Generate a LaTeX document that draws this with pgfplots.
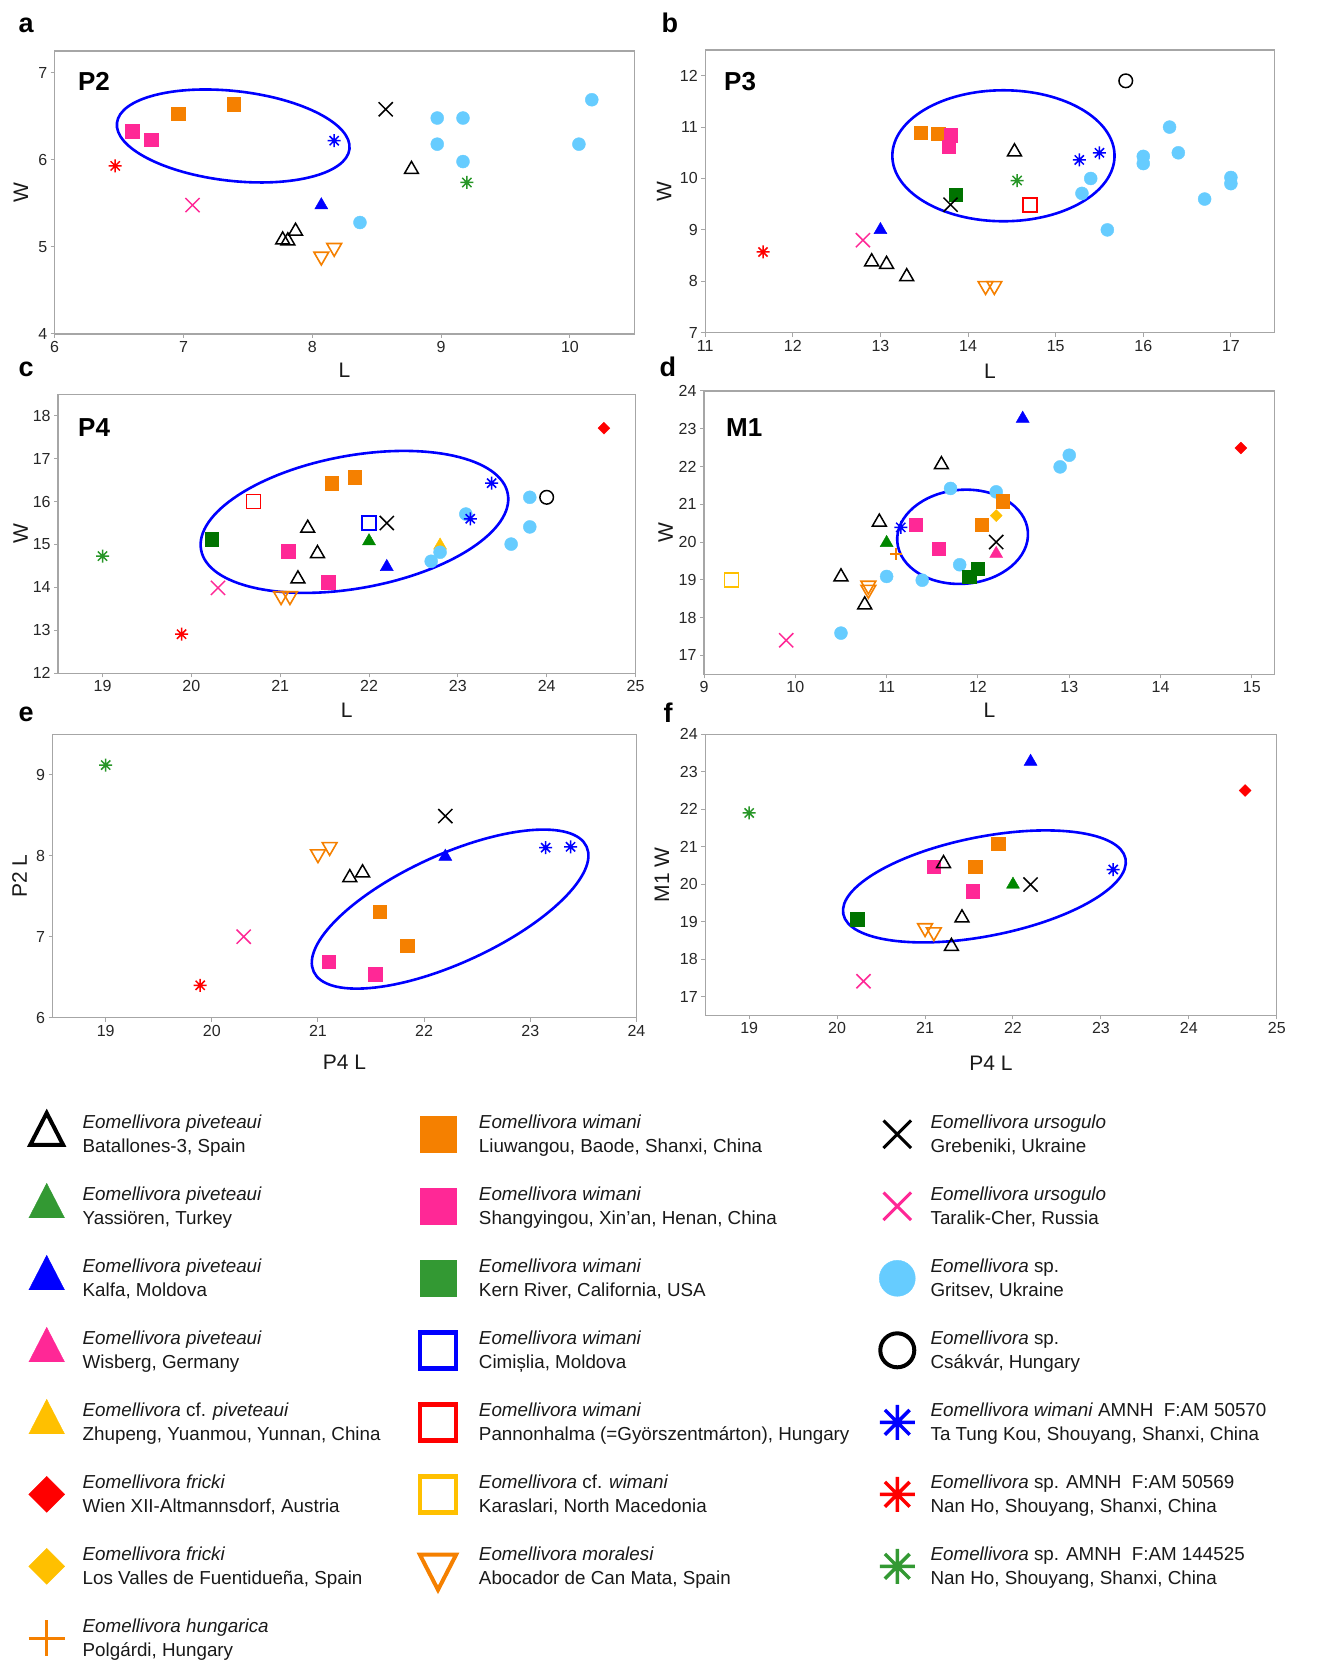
\documentclass[border=0pt]{standalone}
\usepackage{fontspec}
\setmainfont{Liberation Sans}
\usepackage{pgfplots}
\pgfplotsset{compat=1.18}
\usetikzlibrary{shapes.geometric}

\definecolor{cOr}{RGB}{245,128,0}
\definecolor{cPk}{RGB}{255,40,150}
\definecolor{cGrL}{RGB}{51,153,51}
\definecolor{cGrD}{RGB}{0,115,0}
\definecolor{cGrT}{RGB}{0,135,0}
\definecolor{cGrA}{RGB}{40,150,40}
\definecolor{cYe}{RGB}{255,192,0}
\definecolor{cLb}{RGB}{102,204,255}
\definecolor{cBl}{RGB}{0,0,255}
\definecolor{cRd}{RGB}{255,0,0}

\pgfdeclareplotmark{ast8}{%
  \pgfpathmoveto{\pgfqpoint{-\pgfplotmarksize}{0pt}}%
  \pgfpathlineto{\pgfqpoint{\pgfplotmarksize}{0pt}}%
  \pgfpathmoveto{\pgfqpoint{0pt}{-\pgfplotmarksize}}%
  \pgfpathlineto{\pgfqpoint{0pt}{\pgfplotmarksize}}%
  \pgfpathmoveto{\pgfqpoint{-0.7071\pgfplotmarksize}{-0.7071\pgfplotmarksize}}%
  \pgfpathlineto{\pgfqpoint{0.7071\pgfplotmarksize}{0.7071\pgfplotmarksize}}%
  \pgfpathmoveto{\pgfqpoint{-0.7071\pgfplotmarksize}{0.7071\pgfplotmarksize}}%
  \pgfpathlineto{\pgfqpoint{0.7071\pgfplotmarksize}{-0.7071\pgfplotmarksize}}%
  \pgfusepathqstroke}

\pgfplotsset{
  panel/.style={scale only axis, anchor=south west, clip=false,
    axis line style={draw=black!35, line width=1.3pt},
    tick align=outside, tick pos=left, major tick length=4pt,
    major tick style={draw=black!35, line width=1pt},
    tick label style={font=\fontsize{16}{18}\selectfont, text=black!85},
    /pgf/number format/assume math mode=true},
  xl/.style={every axis x label/.style={at={(axis description cs:0.5,#1)}, anchor=center, font=\fontsize{21}{24}\selectfont, text=black!90}},
  yl/.style={every axis y label/.style={at={(axis description cs:#1,0.5)}, anchor=center, rotate=90, font=\fontsize{21}{24}\selectfont, text=black!90}},
  pBT/.style={only marks, mark=triangle, mark size=8pt, black, mark options={line width=1.5pt}},
  pGT/.style={only marks, mark=triangle*, mark size=7.5pt, color=cGrT},
  pBlT/.style={only marks, mark=triangle*, mark size=7.5pt, color=cBl},
  pPkT/.style={only marks, mark=triangle*, mark size=7.5pt, color=cPk},
  pYT/.style={only marks, mark=triangle*, mark size=7.5pt, color=cYe},
  pRD/.style={only marks, mark=square*, mark size=4.2pt, color=cRd, mark options={rotate=45}},
  pYD/.style={only marks, mark=square*, mark size=4.2pt, color=cYe, mark options={rotate=45}},
  pOP/.style={only marks, mark=+, mark size=6pt, color=cOr, mark options={line width=1.5pt}},
  pOS/.style={only marks, mark=square*, mark size=6.75pt, color=cOr},
  pPS/.style={only marks, mark=square*, mark size=6.75pt, color=cPk},
  pGS/.style={only marks, mark=square*, mark size=6.75pt, color=cGrD},
  pBO/.style={only marks, mark=square, mark size=7pt, color=cBl, mark options={line width=1.6pt}},
  pRO/.style={only marks, mark=square, mark size=7pt, color=cRd, mark options={line width=1.6pt}},
  pYO/.style={only marks, mark=square, mark size=7pt, color=cYe, mark options={line width=1.6pt}},
  pDn/.style={only marks, mark=triangle, mark size=8.5pt, color=cOr, mark options={rotate=180, line width=1.6pt}},
  pKX/.style={only marks, mark=x, mark size=10pt, black, mark options={line width=1.5pt}},
  pPX/.style={only marks, mark=x, mark size=10pt, color=cPk, mark options={line width=1.5pt}},
  pLC/.style={only marks, mark=*, mark size=6.5pt, color=cLb},
  pKC/.style={only marks, mark=o, mark size=6.8pt, black, mark options={line width=1.5pt}},
  pBA/.style={only marks, mark=ast8, mark size=6.5pt, color=cBl, mark options={line width=1.5pt}},
  pRA/.style={only marks, mark=ast8, mark size=6.5pt, color=cRd, mark options={line width=1.5pt}},
  pGA/.style={only marks, mark=ast8, mark size=6.5pt, color=cGrA, mark options={line width=1.5pt}},
}

\newcommand{\ptitle}[3]{\node[anchor=base west, inner sep=0pt, font=\fontsize{26}{28}\selectfont\bfseries] at (axis description cs:#1,#2) {#3};}
\newcommand{\ovl}[5]{\node[draw=cBl, line width=2.6pt, ellipse, inner sep=0pt, outer sep=0pt, minimum width=#3pt, minimum height=#4pt, rotate=#5] at (axis cs:#1,#2) {};}
\newcommand{\LA}[2]{\kern2.7pt\parbox[t]{322pt}{#1\newline #2}}
\newcommand{\LB}[2]{\kern7.7pt\parbox[t]{385pt}{#1\newline #2}}
\newcommand{\LC}[2]{\parbox[t]{370pt}{#1\newline #2}}
\newcommand{\Eo}{\textit{Eomellivora}}

\begin{document}
\begin{tikzpicture}
\path[use as bounding box] (0,0) rectangle (1319pt,1663pt);

% ---------- a : P2
\begin{axis}[panel, at={(54.7pt,1329pt)}, width=579.6pt, height=283pt,
  xmin=6, xmax=10.5, ymin=4, ymax=7.25, xtick={6,...,10}, ytick={4,...,7},
  xlabel={L}, ylabel={W}, xl=-0.129, yl=-0.0581]
\addplot[pPS] coordinates {(6.60,6.33) (6.75,6.23)};
\addplot[pOS] coordinates {(6.96,6.53) (7.39,6.64)};
\addplot[pBA] coordinates {(8.17,6.22)};
\addplot[pRA] coordinates {(6.47,5.93)};
\addplot[pPX] coordinates {(7.07,5.48)};
\addplot[pKX] coordinates {(8.57,6.58)};
\addplot[pLC] coordinates {(8.97,6.48) (9.17,6.48) (8.97,6.18) (9.17,5.98) (10.17,6.69) (10.07,6.18) (8.37,5.28)};
\addplot[pBT] coordinates {(8.77,5.89) (7.87,5.18) (7.77,5.08) (7.81,5.07)};
\addplot[pGA] coordinates {(9.20,5.74)};
\addplot[pBlT] coordinates {(8.07,5.48)};
\addplot[pDn] coordinates {(8.07,4.89) (8.17,4.99)};
\ovl{7.386}{6.274}{234}{89.8}{-6.4}
\ptitle{0.040}{0.862}{P2}
\end{axis}

% ---------- b : P3
\begin{axis}[panel, at={(705.2pt,1330.3pt)}, width=569.5pt, height=282.7pt,
  xmin=11, xmax=17.5, ymin=7, ymax=12.5, xtick={11,...,17}, ytick={7,...,12},
  xlabel={L}, ylabel={W}, xl=-0.137, yl=-0.072]
\addplot[pKC] coordinates {(15.80,11.90)};
\addplot[pOS] coordinates {(13.46,10.89) (13.66,10.87)};
\addplot[pPS] coordinates {(13.80,10.84) (13.78,10.62)};
\addplot[pBT] coordinates {(14.53,10.52) (12.90,8.38) (13.07,8.33) (13.30,8.09)};
\addplot[pLC] coordinates {(15.30,9.71) (15.40,10.0) (15.59,9.0) (16.0,10.43) (16.0,10.29) (16.30,11.0) (16.40,10.50) (17.0,10.02) (17.0,9.90) (16.70,9.60)};
\addplot[pBA] coordinates {(15.27,10.36) (15.50,10.50)};
\addplot[pGA] coordinates {(14.56,9.96)};
\addplot[pGS] coordinates {(13.86,9.68)};
\addplot[pKX] coordinates {(13.80,9.49)};
\addplot[pRO] coordinates {(14.71,9.49)};
\addplot[pBlT] coordinates {(13.0,9.0)};
\addplot[pPX] coordinates {(12.80,8.80)};
\addplot[pRA] coordinates {(11.66,8.57)};
\addplot[pDn] coordinates {(14.20,7.91) (14.30,7.91)};
\ovl{14.404}{10.442}{222.2}{131}{0}
\ptitle{0.033}{0.855}{P3}
\end{axis}

% ---------- c : P4
\begin{axis}[panel, at={(58.1pt,989.7pt)}, width=577.4pt, height=279pt,
  xmin=18.5, xmax=25, ymin=12, ymax=18.5, xtick={19,...,25}, ytick={12,...,18},
  xlabel={L}, ylabel={W}, xl=-0.1326, yl=-0.065]
\addplot[pRD] coordinates {(24.645,17.71)};
\addplot[pOS] coordinates {(21.58,16.43) (21.84,16.57)};
\addplot[pRO] coordinates {(20.70,16.0)};
\addplot[pYT] coordinates {(22.80,14.98)};
\addplot[pLC] coordinates {(23.09,15.71) (23.81,16.10) (23.81,15.41) (23.60,15.01) (22.80,14.82) (22.70,14.61)};
\addplot[pBA] coordinates {(23.38,16.43) (23.14,15.60)};
\addplot[pKC] coordinates {(24.0,16.10)};
\addplot[pBO] coordinates {(22.0,15.50)};
\addplot[pKX] coordinates {(22.20,15.50)};
\addplot[pBT] coordinates {(21.31,15.38) (21.42,14.79) (21.20,14.20)};
\addplot[pGS] coordinates {(20.23,15.12)};
\addplot[pGT] coordinates {(22.0,15.08)};
\addplot[pPS] coordinates {(21.09,14.84) (21.54,14.12)};
\addplot[pBlT] coordinates {(22.20,14.48)};
\addplot[pGA] coordinates {(19.0,14.73)};
\addplot[pPX] coordinates {(20.30,13.99)};
\addplot[pDn] coordinates {(21.01,13.80) (21.11,13.80)};
\addplot[pRA] coordinates {(19.89,12.91)};
\ovl{21.836}{15.527}{311.8}{132.6}{10.35}
\ptitle{0.0345}{0.847}{P4}
\end{axis}

% ---------- d : M1
\begin{axis}[panel, at={(704pt,988.7pt)}, width=570.7pt, height=283.3pt,
  xmin=9, xmax=15.25, ymin=16.5, ymax=24, xtick={9,...,15}, ytick={17,...,24},
  xlabel={L}, ylabel={W}, xl=-0.128, yl=-0.067]
\addplot[pBlT] coordinates {(12.49,23.27)};
\addplot[pRD] coordinates {(14.88,22.49)};
\addplot[pLC] coordinates {(13.0,22.30) (12.90,21.99) (11.70,21.42) (12.20,21.33) (11.0,19.09) (11.39,18.99) (11.80,19.40) (10.50,17.59)};
\addplot[pBT] coordinates {(11.60,22.05) (10.92,20.53) (10.50,19.08) (10.76,18.34)};
\addplot[pOS] coordinates {(12.27,21.08) (12.04,20.46)};
\addplot[pYD] coordinates {(12.20,20.70)};
\addplot[pBA] coordinates {(11.155,20.39)};
\addplot[pPS] coordinates {(11.32,20.46) (11.57,19.82)};
\addplot[pGT] coordinates {(11.0,19.98)};
\addplot[pOP] coordinates {(11.10,19.69)};
\addplot[pKX] coordinates {(12.20,20.0)};
\addplot[pPkT] coordinates {(12.20,19.69)};
\addplot[pGS] coordinates {(12.0,19.30) (11.905,19.08)};
\addplot[pYO] coordinates {(9.30,19.0)};
\addplot[pDn] coordinates {(10.80,18.85) (10.80,18.74)};
\addplot[pPX] coordinates {(9.90,17.40)};
\ovl{11.832}{20.14}{131}{94}{4.5}
\ptitle{0.0385}{0.838}{M1}
\end{axis}

% ---------- e : P4 L vs P2 L
\begin{axis}[panel, at={(52.6pt,645.3pt)}, width=583.8pt, height=283.4pt,
  xmin=18.5, xmax=24, ymin=6, ymax=9.5, xtick={19,...,24}, ytick={6,...,9},
  xlabel={P4 L}, ylabel={P2 L}, xl=-0.158, yl=-0.0565]
\addplot[pGA] coordinates {(19.0,9.12)};
\addplot[pKX] coordinates {(22.20,8.49)};
\addplot[pDn] coordinates {(21.0,8.02) (21.11,8.11)};
\addplot[pBT] coordinates {(21.30,7.73) (21.42,7.79)};
\addplot[pBlT] coordinates {(22.20,7.99)};
\addplot[pBA] coordinates {(23.145,8.10) (23.38,8.11)};
\addplot[pOS] coordinates {(21.58,7.31) (21.84,6.89)};
\addplot[pPX] coordinates {(20.30,7.0)};
\addplot[pPS] coordinates {(21.10,6.69) (21.54,6.54)};
\addplot[pRA] coordinates {(19.89,6.40)};
\ovl{22.245}{7.341}{300.2}{108.2}{24.6}
\end{axis}

% ---------- f : P4 L vs M1 W
\begin{axis}[panel, at={(705.2pt,647.7pt)}, width=571.6pt, height=281pt,
  xmin=18.5, xmax=25, ymin=16.5, ymax=24, xtick={19,...,25}, ytick={17,...,24},
  xlabel={P4 L}, ylabel={M1 W}, xl=-0.172, yl=-0.0758]
\addplot[pBlT] coordinates {(22.20,23.27)};
\addplot[pRD] coordinates {(24.64,22.50)};
\addplot[pGA] coordinates {(19.0,21.90)};
\addplot[pOS] coordinates {(21.83,21.08) (21.57,20.47)};
\addplot[pPS] coordinates {(21.10,20.47) (21.54,19.81)};
\addplot[pBT] coordinates {(21.21,20.55) (21.42,19.10) (21.30,18.34)};
\addplot[pBA] coordinates {(23.14,20.39)};
\addplot[pGT] coordinates {(22.0,19.99)};
\addplot[pKX] coordinates {(22.20,19.99)};
\addplot[pGS] coordinates {(20.23,19.07)};
\addplot[pDn] coordinates {(21.0,18.83) (21.10,18.72)};
\addplot[pPX] coordinates {(20.30,17.41)};
\ovl{21.675}{19.94}{287.6}{99.2}{11.1}
\end{axis}

% ---------- legend
\begin{axis}[hide axis, scale only axis, width=10pt, height=10pt,
  at={(13.4pt,564.7pt)}, anchor=north west,
  xmin=0, xmax=1, ymin=0, ymax=1,
  legend columns=3,
  legend image code/.code={\path[draw=none, fill=none] (-33.3pt,-36pt) rectangle (33.3pt,36pt); \draw[#1] plot coordinates {(0pt,0pt)};},
  legend style={at={(0,1)}, anchor=north west, draw=none, fill=none,
    inner xsep=0pt, inner ysep=0pt, inner sep=0pt, outer sep=0pt,
    row sep=0pt, column sep=0pt, font=\fontsize{18.8}{24}\selectfont, text=black!90,
    cells={anchor=west},
    nodes={inner sep=0pt, outer sep=0pt, text height=6pt, text depth=18pt, anchor=west}},
]
% row 1
\addlegendimage{black, mark=triangle, mark size=19pt, line width=4pt, mark options={yscale=1.12}}
\addlegendentry{\LA{\textit{Eomellivora piveteaui}}{Batallones-3, Spain}}
\addlegendimage{cOr, mark=square*, mark size=18pt}
\addlegendentry{\LB{\textit{Eomellivora wimani}}{Liuwangou, Baode, Shanxi, China}}
\addlegendimage{black, mark=x, mark size=19.5pt, line width=3pt}
\addlegendentry{\LC{\textit{Eomellivora ursogulo}}{Grebeniki, Ukraine}}
% row 2
\addlegendimage{cGrL, mark=triangle*, mark size=20.5pt, mark options={yscale=1.12}}
\addlegendentry{\LA{\textit{Eomellivora piveteaui}}{Yassiören, Turkey}}
\addlegendimage{cPk, mark=square*, mark size=18pt}
\addlegendentry{\LB{\textit{Eomellivora wimani}}{Shangyingou, Xin’an, Henan, China}}
\addlegendimage{cPk, mark=x, mark size=19.5pt, line width=3pt}
\addlegendentry{\LC{\textit{Eomellivora ursogulo}}{Taralik-Cher, Russia}}
% row 3
\addlegendimage{cBl, mark=triangle*, mark size=20.5pt, mark options={yscale=1.12}}
\addlegendentry{\LA{\textit{Eomellivora piveteaui}}{Kalfa, Moldova}}
\addlegendimage{cGrL, mark=square*, mark size=18pt}
\addlegendentry{\LB{\textit{Eomellivora wimani}}{Kern River, California, USA}}
\addlegendimage{cLb, mark=*, mark size=18pt}
\addlegendentry{\LC{\Eo{} sp.}{Gritsev, Ukraine}}
% row 4
\addlegendimage{cPk, mark=triangle*, mark size=20.5pt, mark options={yscale=1.12}}
\addlegendentry{\LA{\textit{Eomellivora piveteaui}}{Wisberg, Germany}}
\addlegendimage{cBl, mark=square, mark size=18pt, line width=4.5pt}
\addlegendentry{\LB{\textit{Eomellivora wimani}}{Cimișlia, Moldova}}
\addlegendimage{black, mark=o, mark size=17pt, line width=4pt}
\addlegendentry{\LC{\Eo{} sp.}{Csákvár, Hungary}}
% row 5
\addlegendimage{cYe, mark=triangle*, mark size=20.5pt, mark options={yscale=1.12}}
\addlegendentry{\LA{\Eo{} cf. \textit{piveteaui}}{Zhupeng, Yuanmou, Yunnan, China}}
\addlegendimage{cRd, mark=square, mark size=18pt, line width=4.5pt}
\addlegendentry{\LB{\textit{Eomellivora wimani}}{Pannonhalma (=Györszentmárton), Hungary}}
\addlegendimage{cBl, mark=ast8, mark size=17.5pt, line width=3.5pt}
\addlegendentry{\LC{\textit{Eomellivora wimani} AMNH\ \ F:AM 50570}{Ta Tung Kou, Shouyang, Shanxi, China}}
% row 6
\addlegendimage{cRd, mark=square*, mark size=12.7pt, mark options={rotate=45}}
\addlegendentry{\LA{\textit{Eomellivora fricki}}{Wien XII-Altmannsdorf, Austria}}
\addlegendimage{cYe, mark=square, mark size=18pt, line width=4.5pt}
\addlegendentry{\LB{\Eo{} cf. \textit{wimani}}{Karaslari, North Macedonia}}
\addlegendimage{cRd, mark=ast8, mark size=17.5pt, line width=3.5pt}
\addlegendentry{\LC{\Eo{} sp. AMNH\ \ F:AM 50569}{Nan Ho, Shouyang, Shanxi, China}}
% row 7
\addlegendimage{cYe, mark=square*, mark size=12.7pt, mark options={rotate=45}}
\addlegendentry{\LA{\textit{Eomellivora fricki}}{Los Valles de Fuentidueña, Spain}}
\addlegendimage{cOr, mark=triangle, mark size=21pt, line width=4pt, mark options={rotate=180, yscale=1.12}}
\addlegendentry{\LB{\textit{Eomellivora moralesi}}{Abocador de Can Mata, Spain}}
\addlegendimage{cGrL, mark=ast8, mark size=17.5pt, line width=3.5pt}
\addlegendentry{\LC{\Eo{} sp. AMNH\ \ F:AM 144525}{Nan Ho, Shouyang, Shanxi, China}}
% row 8
\addlegendimage{cOr, mark=+, mark size=18pt, line width=3pt}
\addlegendentry{\LA{\textit{Eomellivora hungarica}}{Polgárdi, Hungary}}
\end{axis}

\tikzset{plet/.style={anchor=base west, inner sep=0pt, font=\fontsize{27}{28}\selectfont\bfseries}}
\node[plet] at (18.5pt,1630pt) {a};
\node[plet] at (661.5pt,1630pt) {b};
\node[plet] at (18.5pt,1286pt) {c};
\node[plet] at (659.5pt,1286pt) {d};
\node[plet] at (18.5pt,941pt) {e};
\node[plet] at (663.5pt,940pt) {f};
\end{tikzpicture}
\end{document}
